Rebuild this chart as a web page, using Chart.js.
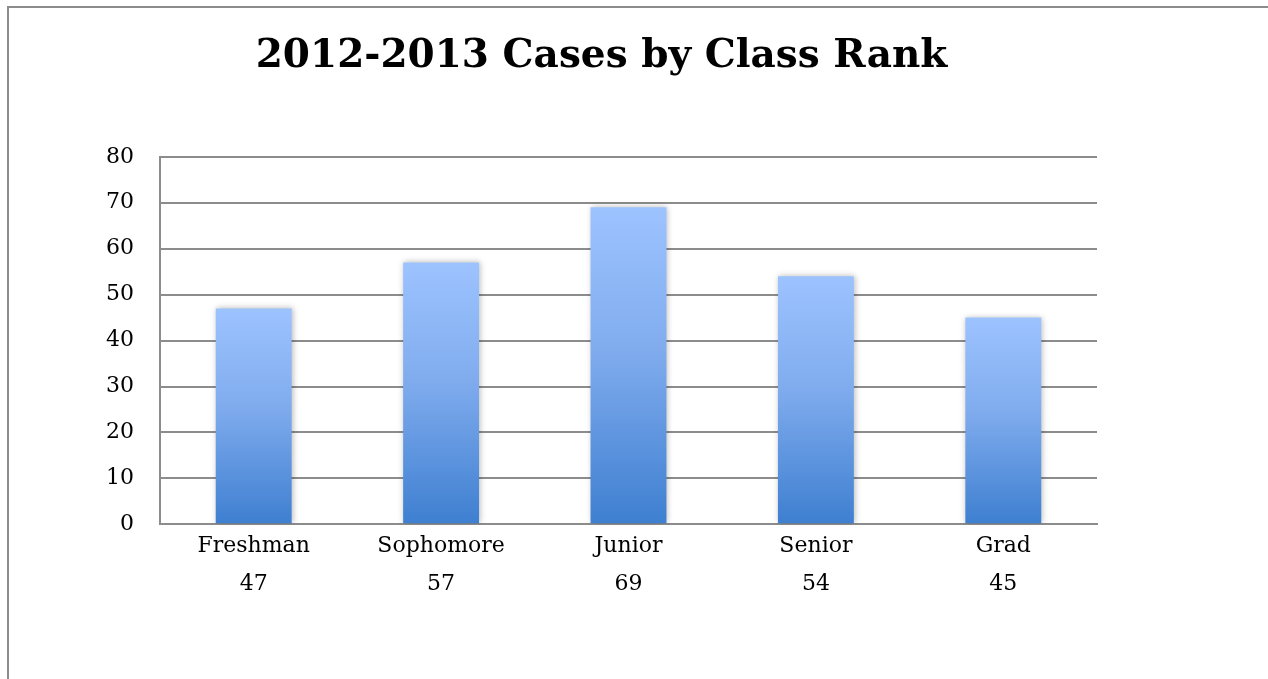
<!DOCTYPE html>
<html>
<head>
<meta charset="utf-8">
<title>2012-2013 Cases by Class Rank</title>
<script src="https://cdn.jsdelivr.net/npm/chart.js@4/dist/chart.umd.min.js"></script>
<style>
  html, body { margin: 0; padding: 0; background: #fff; overflow: hidden; }
  #frame {
    position: absolute; left: 7px; top: 6px; width: 2000px; height: 2000px;
    border-left: 2px solid #8c8c8c; border-top: 2px solid #8c8c8c;
  }
  #chart { position: absolute; left: 0; top: 0; }
</style>
</head>
<body>
<div id="frame"></div>
<canvas id="chart" width="1268" height="679"></canvas>
<script>
// data from the chart
const classRanks = ['Freshman', 'Sophomore', 'Junior', 'Senior', 'Grad'];
const caseCounts = [47, 57, 69, 54, 45];
const yTicks = [0, 10, 20, 30, 40, 50, 60, 70, 80];

// each category label shows the count underneath
const xLabels = classRanks.map((name, i) => [name, String(caseCounts[i])]);

// vertical gradient per bar, light on top, darker at the base
function barGradient(context) {
    const chart = context.chart;
    const area = chart.chartArea;
    if (!area) return '#6a9fe6';
    const y = chart.scales.y;
    const top = y.getPixelForValue(context.raw);
    const base = y.getPixelForValue(0);
    const g = chart.ctx.createLinearGradient(0, top, 0, base);
    g.addColorStop(0, '#9dc3ff');
    g.addColorStop(0.45, '#80acee');
    g.addColorStop(1, '#3e7fd0');
    return g;
}

// soft shadow round the bars
const barShadow = {
    id: 'barShadow',
    beforeDatasetsDraw(chart) {
        const ctx = chart.ctx;
        ctx.save();
        ctx.shadowColor = 'rgba(0, 0, 0, 0.28)';
        ctx.shadowBlur = 6;
        ctx.shadowOffsetX = 1;
        ctx.shadowOffsetY = 0;
    },
    afterDatasetsDraw(chart) {
        chart.ctx.restore();
    }
};

const serif = "'DejaVu Serif', 'Liberation Serif', serif";

new Chart(document.getElementById('chart').getContext('2d'), {
    type: 'bar',
    data: {
        labels: xLabels,
        datasets: [{
            label: 'Cases',
            data: caseCounts,
            backgroundColor: barGradient,
            borderWidth: 0,
            categoryPercentage: 1,
            barPercentage: 0.405
        }]
    },
    options: {
        responsive: false,
        animation: false,
        layout: {
            padding: { left: 106, right: 171, top: 31, bottom: 73 }
        },
        plugins: {
            legend: { display: false },
            tooltip: { enabled: false },
            title: {
                display: true,
                text: '2012-2013 Cases by Class Rank',
                color: '#000',
                font: { family: serif, size: 39, weight: 'bold' },
                padding: { top: 2, bottom: 77 }
            }
        },
        scales: {
            x: {
                grid: { display: false, drawTicks: false },
                border: { display: true, color: '#8c8c8c', width: 2 },
                ticks: {
                    color: '#000',
                    padding: 3,
                    maxRotation: 0,
                    font: { family: serif, size: 22, lineHeight: 1.72 }
                }
            },
            y: {
                min: 0,
                max: 80,
                afterBuildTicks: scale => {
                    scale.ticks = yTicks.map(v => ({ value: v }));
                },
                afterFit: scale => {
                    scale.width = 54;
                },
                grid: { color: '#8c8c8c', lineWidth: 2, drawTicks: false },
                border: { display: true, color: '#8c8c8c', width: 2 },
                ticks: {
                    color: '#000',
                    padding: 26,
                    font: { family: serif, size: 22 }
                }
            }
        }
    },
    plugins: [barShadow]
});
</script>
</body>
</html>
